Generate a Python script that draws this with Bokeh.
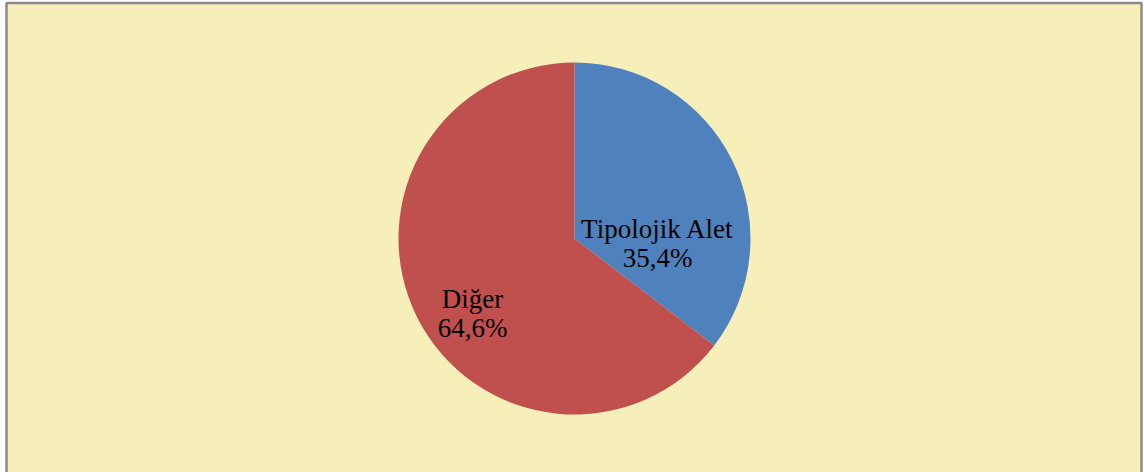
import math
from bokeh.plotting import figure
from bokeh.models import Range1d, BoxAnnotation, ColumnDataSource
from bokeh.core.properties import value
from bokeh.embed import file_html
from bokeh.resources import INLINE

# ---- data ----
categories = ["Tipolojik Alet", "Diğer"]
percents = [35.4, 64.6]
pct_labels = ["35,4%", "64,6%"]
colors = ["#4F81BD", "#C0504D"]

# ---- layout / style ----
W, H = 1144, 472
cx, cy = 574, H - 238
R = 176
# label offsets from centre (pixels): (dx, dy of first baseline)
label_offsets = [(83, 10), (-102, -60)]
line_gap = 29
font = "Liberation Serif"
font_size = "27px"

p = figure(width=W, height=H, x_range=Range1d(0, W), y_range=Range1d(0, H),
           output_backend="svg", toolbar_location=None, min_border=0,
           background_fill_color="white", border_fill_color="white")
p.axis.visible = False
p.grid.visible = False
p.outline_line_color = None

p.add_layout(BoxAnnotation(left=6, right=1141, top=H - 2.5, bottom=-20,
                           fill_color="#F6EFBA", fill_alpha=1.0,
                           line_color="#8A8A8A", line_alpha=1.0, line_width=2.5,
                           level="underlay"))

# wedge angles: start at top, going clockwise
total = sum(percents)
starts, ends = [], []
acc = 0.0
for v in percents:
    a_hi = math.pi / 2 - 2 * math.pi * acc / total
    acc += v
    a_lo = math.pi / 2 - 2 * math.pi * acc / total
    starts.append(a_lo)
    ends.append(a_hi)

src = ColumnDataSource(dict(x=[cx] * len(percents), y=[cy] * len(percents),
                            start=starts, end=ends, color=colors))
p.wedge(x="x", y="y", radius=R, start_angle="start", end_angle="end",
        fill_color="color", line_color=None, source=src)

tx, ty, tt = [], [], []
for cat, lab, (dx, dy) in zip(categories, pct_labels, label_offsets):
    tx += [cx + dx, cx + dx]
    ty += [cy + dy, cy + dy - line_gap]
    tt += [cat, lab]
p.text(x=tx, y=ty, text=tt, text_align="center", text_baseline="alphabetic",
       text_font=value(font), text_font_size=font_size, text_color="black")

open("out.html", "w").write(file_html(p, INLINE))
